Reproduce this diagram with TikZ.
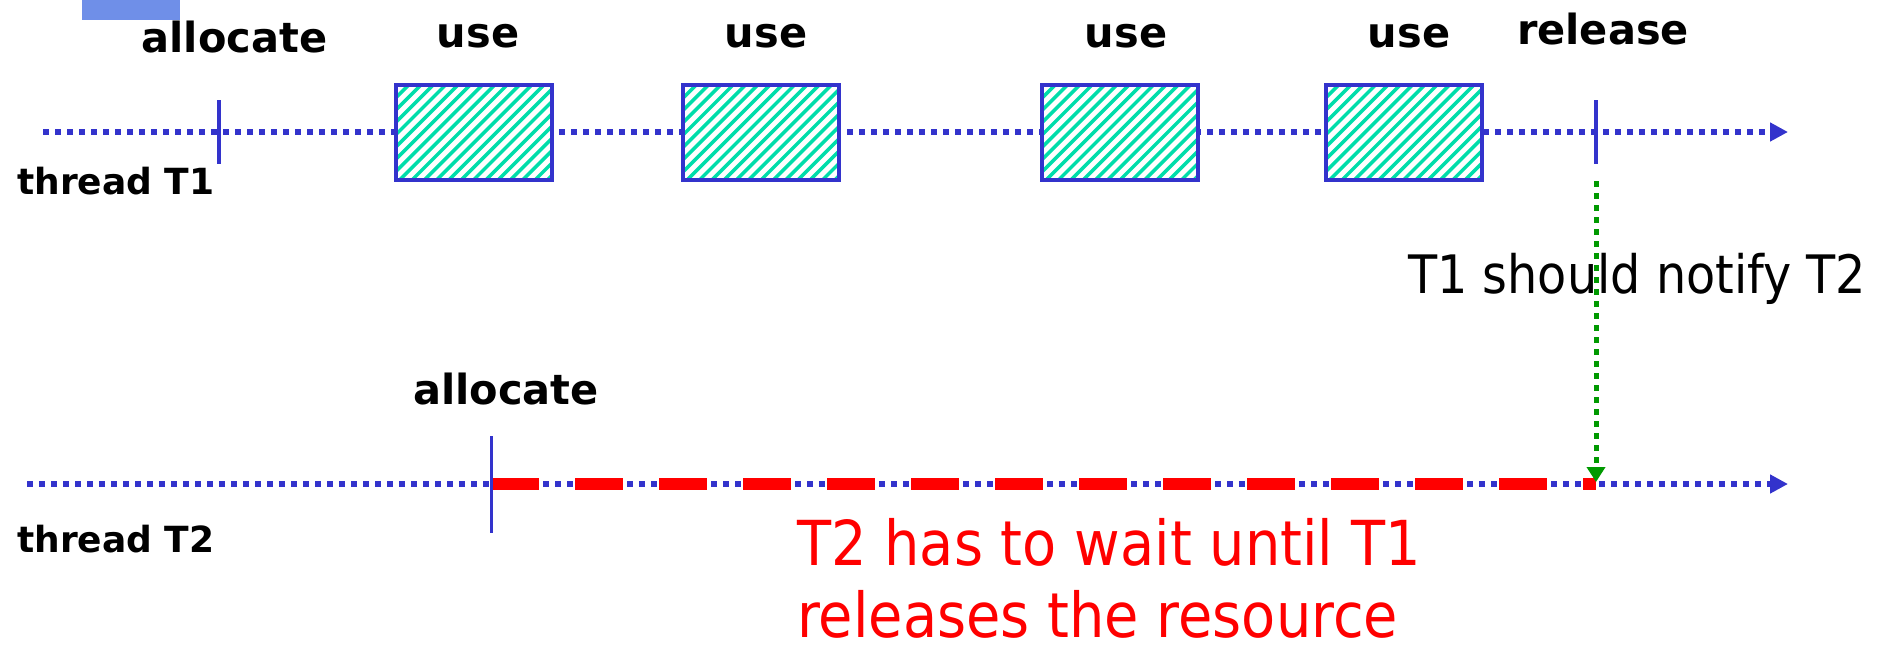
\documentclass[tikz,border=0pt]{standalone}
\usepackage{fontspec}
\usetikzlibrary{arrows.meta}
\newfontfamily\dvsans{DejaVu Sans}
\newfontfamily\narrowsans[FakeStretch=0.9]{DejaVu Sans}
\definecolor{lineblue}{RGB}{51,51,204}
\definecolor{tabblue}{RGB}{111,143,232}
\definecolor{hatchgreen}{RGB}{0,221,170}
\definecolor{notegreen}{RGB}{0,153,0}
\definecolor{waitred}{RGB}{255,0,0}
\begin{document}
\begin{tikzpicture}[x=1pt,y=-1pt,
  timeline/.style={lineblue, line width=6pt, dash pattern=on 6pt off 6pt,
    -{Triangle[length=18pt,width=18pt]}},
  tickmark/.style={lineblue, line width=4.5pt},
  usebox/.style={draw=lineblue, line width=4pt, fill=white,
    minimum width=156pt, minimum height=95pt, inner sep=0pt,
    path picture={
      \foreach \k in {-17,...,8}
        \draw[hatchgreen, line width=3.5pt]
          ([shift={(\k*12.3pt-10pt,-10pt)}]path picture bounding box.south)
          -- ++(125pt,125pt);
    }},
  evlabel/.style={font={\dvsans\bfseries\fontsize{41.5}{48}\selectfont},
    inner sep=0pt, anchor=base},
  threadlabel/.style={font={\dvsans\bfseries\fontsize{36}{42}\selectfont},
    inner sep=0pt, anchor=base west},
  waitbar/.style={waitred, line width=12pt, dash pattern=on 48pt off 36pt},
  notify/.style={notegreen, line width=5pt, dash pattern=on 6pt off 6pt,
    -{Triangle[length=15pt,width=18pt]}},
  waitnote/.style={font={\narrowsans\fontsize{62}{72}\selectfont}, text=waitred,
    inner sep=0pt, anchor=base west},
]
\useasboundingbox (0,0) rectangle (1886,648);

% small tab in the corner
\node[fill=tabblue, minimum width=98pt, minimum height=20pt, inner sep=0pt,
  anchor=north west] (tab) at (82,0) {};

% ---------- thread T1 ----------
\coordinate (t1start) at (43,132);
\coordinate (t1end) at (1788,132);
\draw[timeline] (t1start) -- (t1end);

\coordinate (a1top) at (219,100);
\coordinate (a1bot) at (219,164);
\draw[tickmark] (a1top) -- (a1bot);
\coordinate (reltop) at (1596,100);
\coordinate (relbot) at (1596,164);
\draw[tickmark] (reltop) -- (relbot);

\node[usebox] (use1) at (473.5,132.5) {};
\node[usebox] (use2) at (761,132.5) {};
\node[usebox] (use3) at (1120,132.5) {};
\node[usebox] (use4) at (1403.5,132.5) {};

\node[evlabel] (alloc1) at (234.5,52) {allocate};
\node[evlabel] (uselbl1) at (478,47) {use};
\node[evlabel] (uselbl2) at (766,47) {use};
\node[evlabel] (uselbl3) at (1126,47) {use};
\node[evlabel] (uselbl4) at (1409,47) {use};
\node[evlabel] (release) at (1603,44) {release};
\node[threadlabel] (thr1) at (17,194) {thread T1};

% ---------- thread T2 ----------
\coordinate (t2start) at (27,484);
\coordinate (t2end) at (1788,484);
\draw[timeline] (t2start) -- (t2end);

\coordinate (waitstart) at (491,484);
\coordinate (waitend) at (1596,484);
\draw[waitbar] (waitstart) -- (waitend);

\coordinate (a2top) at (491,436);
\coordinate (a2bot) at (491,533);
\draw[lineblue, line width=3pt] (a2top) -- (a2bot);

\node[evlabel] (alloc2) at (506,404) {allocate};
\node[threadlabel] (thr2) at (17,552) {thread T2};

% ---------- notification ----------
\coordinate (notifystart) at (1596,181);
\coordinate (notifyend) at (1596,482);
\draw[notify] (notifystart) -- (notifyend);
\node[font={\narrowsans\fontsize{53}{60}\selectfont}, inner sep=0pt,
  anchor=base west] (note) at (1408,293) {T1 should notify T2};

\node[waitnote] (wait1) at (797,565) {T2 has to wait until T1};
\node[waitnote] (wait2) at (797,637) {releases the resource};
\end{tikzpicture}
\end{document}
